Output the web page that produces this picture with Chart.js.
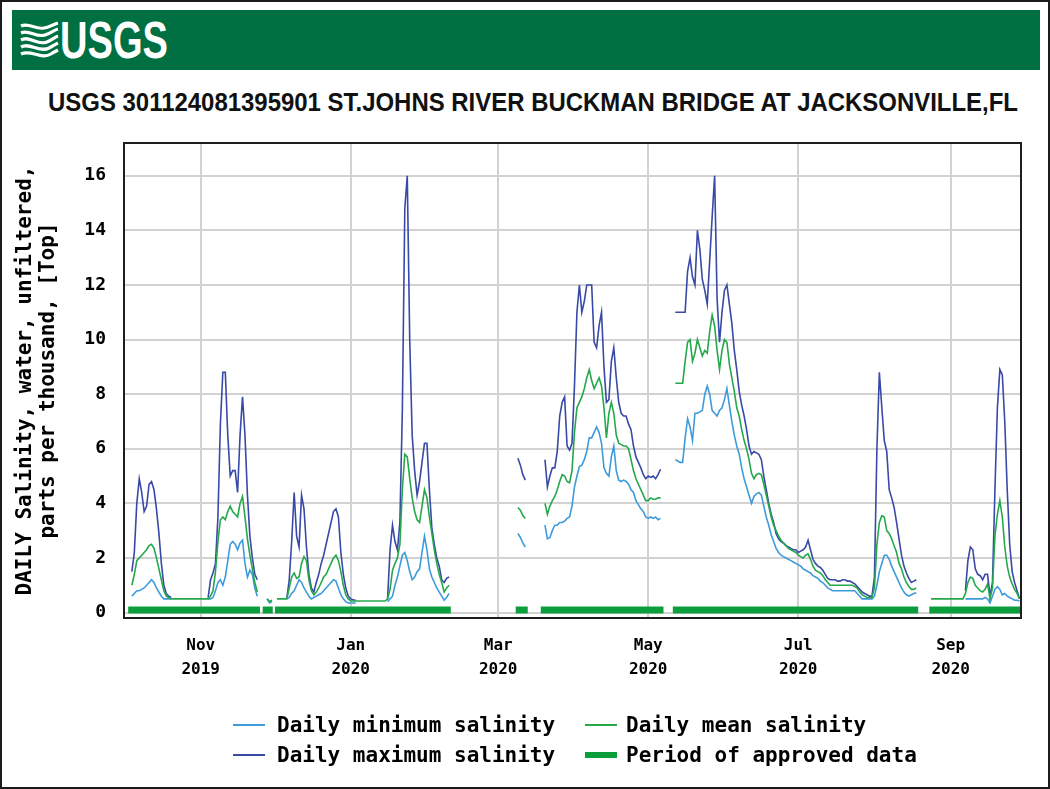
<!DOCTYPE html>
<html>
<head>
<meta charset="utf-8">
<script src="https://cdn.jsdelivr.net/npm/chart.js@4.4.1/dist/chart.umd.min.js"></script>
<style>
  html, body { margin: 0; padding: 0; background: #fff; }
  #page { position: relative; width: 1050px; height: 789px; overflow: hidden; background: #fff; }
  #outline { position: absolute; left: 0; top: 0; width: 1050px; height: 789px; box-sizing: border-box;
             border: 2px solid #1b1b1b; pointer-events: none; }
  #banner { position: absolute; left: 12px; top: 10px; width: 1028px; height: 60px; background: #006f41; }
  #logo { position: absolute; left: 8px; top: 10px; }
  #title { position: absolute; left: 0; top: 82px; }
  #chart { position: absolute; left: 0; top: 0; }
  .lg-item { position: absolute; height: 24px; display: flex; align-items: center;
             font: bold 21px "DejaVu Sans Mono", monospace; color: #000; white-space: pre; }
  .lg-swatch { position: absolute; }
</style>
</head>
<body>
<div id="page">
  <div id="banner">
    <svg id="logo" width="160" height="42" viewBox="0 0 160 42">
      <g fill="none" stroke="#fff" stroke-width="3.2" stroke-linecap="butt">
        <path d="M1,6 C9,2 15,10 24,8 C30,7 34,4 38,3"/>
        <path d="M1,13 C9,9 16,18 25,15 C31,13 34,10 38,9"/>
        <path d="M1,20 C10,15 17,26 27,22 C32,20 35,17 38,16"/>
        <path d="M1,27 C10,22 19,33 29,28 C33,26 36,24 38,23"/>
        <path d="M1,34 C11,29 21,40 31,34 C34,32 36,31 38,30"/>
      </g>
      <text x="40" y="38" textLength="108" lengthAdjust="spacingAndGlyphs"
            font-family="Liberation Sans Narrow, Liberation Sans, Arial, sans-serif"
            font-weight="bold" font-size="52" fill="#fff">USGS</text>
    </svg>
  </div>
  <svg id="title" width="1050" height="40">
    <text x="48" y="29" textLength="970" lengthAdjust="spacingAndGlyphs"
          font-family="Liberation Sans Narrow, Liberation Sans, Arial, sans-serif"
          font-weight="bold" font-size="25" fill="#111">USGS 301124081395901 ST.JOHNS RIVER BUCKMAN BRIDGE AT JACKSONVILLE,FL</text>
  </svg>
  <canvas id="chart" width="1050" height="789"></canvas>
  <div id="legend"></div>
  <div id="outline"></div>
</div>

<script>
// ---- Water year 2020 daily salinity, ppt. Each segment: [first date, daily values...] ----
const MIN_SALINITY = [
  ['2019-10-04', [0.6, 0.7, 0.8, 0.8, 0.85, 0.9, 1.0, 1.1, 1.2, 1.1, 0.9, 0.75, 0.6, 0.5, 0.5, 0.5, 0.5]],
  ['2019-11-04', [0.5, 0.5, 0.55, 0.8, 1.1, 1.2, 1.0, 1.3, 1.9, 2.5, 2.6, 2.5, 2.3, 2.55, 2.65, 1.8, 1.3, 1.55, 1.4, 0.9, 0.6]],
  ['2019-11-28', [0.5, 0.35, 0.4]],
  ['2019-12-06', [0.5, 0.55, 0.7, 0.8, 1.0, 1.2, 1.1, 0.9, 0.75, 0.6, 0.5, 0.55, 0.6, 0.65, 0.7, 0.8, 0.9, 1.0, 1.1, 1.2,
                  1.15, 0.9, 0.65, 0.5, 0.4, 0.35, 0.35, 0.35, 0.35]],
  ['2020-01-16', [0.4, 0.5, 0.6, 1.0, 1.3, 1.7, 2.1, 2.2, 1.9, 1.5, 1.2, 1.3, 1.5, 1.6, 2.2, 2.8, 2.3, 1.6, 1.3, 1.1,
                  0.9, 0.75, 0.6, 0.45, 0.55, 0.7]],
  ['2020-03-09', [2.9, 2.75, 2.55, 2.4]],
  ['2020-03-20', [3.2, 2.7, 2.75, 3.0, 3.2, 3.2, 3.3, 3.3, 3.35, 3.45, 3.5, 3.9, 4.6, 5.0, 5.35, 5.4, 5.6, 5.9, 6.4, 6.4,
                  6.6, 6.8, 6.6, 6.2, 5.3, 5.1, 5.0, 5.7, 6.1, 5.2, 4.85, 4.8, 4.85, 4.8, 4.7, 4.5, 4.4, 4.1, 3.95, 3.8,
                  3.7, 3.5, 3.45, 3.5, 3.45, 3.5, 3.4, 3.45]],
  ['2020-05-12', [5.6, 5.55, 5.5, 5.5, 6.4, 7.1, 6.8, 6.3, 7.3, 7.3, 7.35, 7.4, 8.0, 8.3, 8.0, 7.4, 7.3, 7.2, 7.4, 7.5,
                  7.8, 8.2, 7.6, 7.0, 6.5, 6.1, 5.8, 5.3, 4.9, 4.6, 4.3, 4.0, 4.25, 4.35, 4.4, 4.3, 3.9, 3.5, 3.2, 2.85,
                  2.6, 2.35, 2.2, 2.1, 2.05, 2.0, 1.95, 1.9, 1.85, 1.8, 1.75, 1.7, 1.6, 1.55, 1.5, 1.45, 1.35, 1.3, 1.25, 1.15,
                  1.1, 1.0, 0.9, 0.85, 0.8, 0.8, 0.8, 0.8, 0.8, 0.8, 0.8, 0.8, 0.8, 0.8, 0.7, 0.6, 0.5, 0.5, 0.5, 0.5,
                  0.5, 0.6, 1.0, 1.5, 1.8, 2.1, 2.1, 1.95, 1.7, 1.5, 1.3, 1.1, 0.9, 0.75, 0.65, 0.6, 0.65, 0.7, 0.72]],
  ['2020-09-07', [0.5, 0.5, 0.5, 0.5, 0.5, 0.5, 0.5, 0.5, 0.55, 0.5, 0.35, 0.6, 0.85, 0.95, 0.85, 0.65, 0.7, 0.6, 0.55, 0.5,
                  0.45, 0.45, 0.42]]
];

const MEAN_SALINITY = [
  ['2019-10-04', [1.0, 1.4, 1.9, 2.0, 2.1, 2.2, 2.3, 2.45, 2.5, 2.35, 2.0, 1.6, 1.2, 0.8, 0.6, 0.55,
                  0.5, 0.5, 0.5, 0.5, 0.5, 0.5, 0.5, 0.5, 0.5, 0.5, 0.5, 0.5, 0.5, 0.5, 0.5, 0.5,
                  0.6, 0.8, 1.5, 2.6, 3.4, 3.5, 3.4, 3.7, 3.9, 3.7, 3.6, 3.5, 4.0, 4.25, 3.5, 2.7, 2.1, 1.6, 1.1, 0.75]],
  ['2019-11-28', [0.5, 0.4, 0.45]],
  ['2019-12-02', [0.5, 0.5, 0.5, 0.5, 0.5, 0.9, 1.3, 1.45, 1.25, 1.3, 1.8, 2.05, 1.9, 1.2, 0.8, 0.65, 0.75, 0.9, 1.1, 1.3,
                  1.4, 1.6, 1.8, 2.0, 2.1, 1.9, 1.5, 1.0, 0.65, 0.5,
                  0.42, 0.42, 0.42, 0.42, 0.42, 0.42, 0.42, 0.42, 0.42, 0.42, 0.42, 0.42, 0.42, 0.42, 0.42,
                  0.5, 0.85, 1.55, 1.8, 2.0, 2.5, 4.5, 5.8, 5.7, 4.9, 4.2, 3.7, 3.4, 3.3, 3.9, 4.5, 4.2, 3.5, 2.9, 2.3,
                  1.8, 1.4, 1.1, 0.75, 0.9, 1.0]],
  ['2020-03-09', [3.85, 3.75, 3.55, 3.45]],
  ['2020-03-20', [4.0, 3.6, 3.9, 4.1, 4.25, 4.5, 4.8, 5.05, 5.0, 4.8, 4.75, 5.2, 6.6, 7.5, 7.7, 7.9, 8.2, 8.6, 8.9, 8.5,
                  8.2, 8.4, 8.6, 8.3, 7.5, 6.4, 7.3, 7.7, 7.3, 6.5, 6.2, 6.15, 6.1, 6.1, 6.0, 5.6, 5.2, 4.9, 4.7, 4.5,
                  4.3, 4.1, 4.1, 4.2, 4.15, 4.15, 4.2, 4.2]],
  ['2020-05-12', [8.4, 8.4, 8.4, 8.4, 9.2, 9.9, 10.0, 9.2, 9.5, 10.0, 9.7, 9.4, 9.6, 9.5, 10.3, 10.9, 10.5, 9.6, 8.9, 9.6,
                  10.0, 9.9, 9.1, 8.6, 8.1, 7.5, 7.2, 6.7, 6.3, 6.0, 5.6, 5.1, 4.9, 5.05, 5.1, 5.05, 4.7, 4.3, 3.9, 3.5,
                  3.2, 3.0, 2.8, 2.65, 2.55, 2.45, 2.35, 2.3, 2.25, 2.2, 2.1, 2.05, 2.0, 2.1, 2.15, 1.95, 1.7, 1.55, 1.5, 1.45,
                  1.35, 1.2, 1.1, 1.0, 1.0, 1.0, 1.0, 1.0, 1.0, 1.0, 1.0, 1.0, 1.0, 0.95, 0.9, 0.75, 0.65, 0.6, 0.55, 0.55,
                  0.55, 0.9, 2.5, 3.3, 3.55, 3.5, 3.0, 2.9, 2.7, 2.45, 2.2, 1.8, 1.6, 1.3, 1.1, 0.95, 0.85, 0.85, 0.9]],
  ['2020-08-24', [0.5, 0.5, 0.5, 0.5, 0.5, 0.5, 0.5, 0.5, 0.5, 0.5, 0.5, 0.5, 0.5, 0.5,
                  0.7, 1.1, 1.3, 1.25, 1.0, 0.9, 0.8, 0.75, 0.85, 1.05, 0.5, 0.9, 2.8, 3.6, 4.1, 3.5, 2.4, 1.7, 1.3, 1.05,
                  0.85, 0.7, 0.5]]
];

const MAX_SALINITY = [
  ['2019-10-04', [1.5, 2.2, 4.0, 4.9, 4.4, 3.7, 3.9, 4.7, 4.8, 4.5, 3.8, 2.9, 1.8, 1.0, 0.7, 0.6, 0.55]],
  ['2019-11-04', [0.55, 1.2, 1.45, 1.8, 3.5, 6.9, 8.8, 8.8, 6.5, 5.0, 5.2, 5.2, 4.4, 6.5, 7.9, 6.5, 4.3, 2.8, 2.0, 1.4, 1.2]],
  ['2019-12-06', [0.5, 1.2, 2.6, 4.4, 2.8, 2.4, 4.3, 3.8, 2.4, 1.4, 0.9, 0.75, 1.1, 1.4, 1.8, 2.1, 2.5, 2.9, 3.3, 3.7,
                  3.8, 3.5, 2.2, 1.4, 0.9, 0.6, 0.5, 0.47, 0.45]],
  ['2020-01-16', [0.5, 2.3, 3.2, 2.6, 2.3, 3.3, 7.4, 14.8, 16.0, 10.0, 6.5, 5.2, 4.3, 4.8, 5.5, 6.2, 6.2, 4.5, 3.1, 2.5,
                  2.0, 1.7, 1.2, 1.1, 1.25, 1.3]],
  ['2020-03-09', [5.65, 5.4, 5.05, 4.85]],
  ['2020-03-20', [5.6, 4.6, 5.0, 5.3, 5.3, 5.9, 7.2, 7.7, 7.9, 6.1, 5.95, 6.2, 8.3, 11.0, 12.0, 11.0, 11.4, 12.0, 12.0, 12.0,
                  9.9, 9.7, 10.5, 11.0, 9.0, 7.7, 7.8, 9.2, 9.7, 8.6, 7.7, 7.3, 7.2, 7.2, 6.9, 6.7, 6.1, 5.7, 5.5, 5.3,
                  5.05, 4.9, 5.0, 4.95, 5.0, 4.9, 5.05, 5.25]],
  ['2020-05-12', [11.0, 11.0, 11.0, 11.0, 11.0, 12.5, 13.0, 12.3, 12.0, 14.0, 13.3, 12.2, 11.8, 11.3, 12.9, 14.5, 16.0, 11.5, 9.9, 11.0,
                  11.8, 12.0, 11.3, 10.6, 9.6, 8.9, 8.1, 7.6, 7.2, 6.7, 6.1, 5.8, 5.9, 5.85, 5.8, 5.6, 5.0, 4.5, 4.0, 3.6,
                  3.3, 2.9, 2.7, 2.6, 2.55, 2.45, 2.4, 2.35, 2.3, 2.3, 2.2, 2.25, 2.3, 2.4, 2.65, 2.3, 1.95, 1.8, 1.7, 1.65,
                  1.55, 1.4, 1.25, 1.2, 1.2, 1.2, 1.15, 1.15, 1.2, 1.2, 1.15, 1.15, 1.1, 1.05, 0.95, 0.85, 0.75, 0.7, 0.65, 0.6,
                  0.6, 1.3, 6.0, 8.8, 7.5, 6.3, 5.9, 4.5, 4.2, 3.85, 3.3, 2.7, 2.1, 1.7, 1.45, 1.25, 1.1, 1.15, 1.2]],
  ['2020-09-07', [0.8, 1.9, 2.4, 2.3, 1.6, 1.4, 1.35, 1.2, 1.4, 1.4, 0.6, 1.1, 4.5, 7.5, 8.9, 8.7, 7.0, 4.5, 2.5, 1.5,
                  1.1, 0.8, 0.5]]
];

// Approved-data periods, in days after 1 Oct 2019
const APPROVED_PERIODS = [[1.5, 55.1], [56.2, 60.3], [61.2, 132.7], [159.1, 164.0], [169.3, 219.2], [223.0, 322.8], [327.3, 365.0]];

// Axis ticks
const Y_TICKS = [0, 2, 4, 6, 8, 10, 12, 14, 16];
const X_TICK_DATES = ['2019-11-01', '2020-01-01', '2020-03-01', '2020-05-01', '2020-07-01', '2020-09-01'];
const X_TICK_MONTHS = ['Nov', 'Jan', 'Mar', 'May', 'Jul', 'Sep'];
const X_TICK_YEARS = ['2019', '2020', '2020', '2020', '2020', '2020'];

const SERIES_LABELS = ['Daily minimum salinity', 'Daily mean salinity', 'Daily maximum salinity', 'Period of approved data'];
const Y_TITLE = ['DAILY Salinity, water, unfiltered,', 'parts per thousand, [Top]'];

// ---- styling ----
const COLORS = { min: '#3d9bdc', mean: '#25a84c', max: '#3849a8', approved: '#0c9e3d' };
const MONO = '"DejaVu Sans Mono", "Liberation Mono", monospace';
const APPROVED_LEVEL = 0.09;   // height of the approval strip, just above zero

const DAY0 = Date.UTC(2019, 9, 1);
function dayIndex(iso) {
  const [y, m, d] = iso.split('-').map(Number);
  return Math.round((Date.UTC(y, m - 1, d) - DAY0) / 86400000);
}
function toPoints(segments) {
  const pts = [];
  segments.forEach(([start, values]) => {
    const d0 = dayIndex(start);
    values.forEach((v, i) => pts.push({ x: d0 + i, y: v }));
    pts.push({ x: d0 + values.length - 0.5, y: null });
  });
  return pts;
}
function periodPoints(periods) {
  const pts = [];
  periods.forEach(([a, b]) => {
    pts.push({ x: a, y: APPROVED_LEVEL }, { x: b, y: APPROVED_LEVEL }, { x: b, y: null });
  });
  return pts;
}
const X_TICK_DAYS = X_TICK_DATES.map(dayIndex);

const lineStyle = (color) => ({
  borderColor: color, backgroundColor: color, borderWidth: 1.6, pointRadius: 0,
  tension: 0, spanGaps: false, fill: false
});

const plotFrame = {
  id: 'plotFrame',
  afterDatasetsDraw(chart) {
    const { ctx, chartArea: a } = chart;
    ctx.save();
    ctx.strokeStyle = '#1e1e1e';
    ctx.lineWidth = 2;
    ctx.strokeRect(a.left, a.top, a.right - a.left, a.bottom - a.top);
    ctx.restore();
  }
};

const tickFont = { family: MONO, weight: 'bold', size: 16, lineHeight: 1.5 };

new Chart(document.getElementById('chart'), {
  type: 'line',
  data: {
    datasets: [
      Object.assign({ label: SERIES_LABELS[1], data: toPoints(MEAN_SALINITY), order: 0 }, lineStyle(COLORS.mean)),
      Object.assign({ label: SERIES_LABELS[0], data: toPoints(MIN_SALINITY), order: 1 }, lineStyle(COLORS.min)),
      Object.assign({ label: SERIES_LABELS[2], data: toPoints(MAX_SALINITY), order: 2 }, lineStyle(COLORS.max)),
      { label: SERIES_LABELS[3], data: periodPoints(APPROVED_PERIODS), order: 3,
        borderColor: COLORS.approved, borderWidth: 7, borderCapStyle: 'butt', pointRadius: 0, spanGaps: false }
    ]
  },
  options: {
    responsive: false,
    animation: false,
    events: [],
    layout: { padding: { top: 143, right: 29, left: 0, bottom: 0 } },
    plugins: { legend: { display: false }, tooltip: { enabled: false }, title: { display: false } },
    scales: {
      x: {
        type: 'linear', min: -0.2, max: 364.6,
        afterBuildTicks: (s) => { s.ticks = X_TICK_DAYS.map(v => ({ value: v })); },
        afterFit: (s) => { s.height = 171; },
        grid: { color: '#d2d2d2', lineWidth: 2, drawTicks: false },
        border: { display: false },
        ticks: {
          autoSkip: false, maxRotation: 0, minRotation: 0, padding: 16, color: '#000', font: tickFont,
          callback: (v, i) => [X_TICK_MONTHS[i], X_TICK_YEARS[i]]
        }
      },
      y: {
        min: -0.2, max: 17.2,
        afterBuildTicks: (s) => { s.ticks = Y_TICKS.map(v => ({ value: v })); },
        afterFit: (s) => { s.width = 124; },
        grid: { color: '#d2d2d2', lineWidth: 2, drawTicks: false },
        border: { display: false },
        ticks: { padding: 18, color: '#000', font: { family: MONO, weight: 'bold', size: 18 } },
        title: {
          display: true, text: Y_TITLE, color: '#000',
          font: { family: MONO, weight: 'bold', size: 21, lineHeight: 1.1 },
          padding: { top: 14, bottom: 0 }
        }
      }
    }
  },
  plugins: [plotFrame]
});

// ---- legend (two aligned columns) ----
(function buildLegend() {
  const host = document.getElementById('legend');
  const items = [
    { label: SERIES_LABELS[0], color: COLORS.min, thick: 2, x: 233, tx: 277, y: 725 },
    { label: SERIES_LABELS[1], color: COLORS.mean, thick: 2, x: 585, tx: 626, y: 725 },
    { label: SERIES_LABELS[2], color: COLORS.max, thick: 2, x: 233, tx: 277, y: 755 },
    { label: SERIES_LABELS[3], color: COLORS.approved, thick: 6, x: 585, tx: 626, y: 755 }
  ];
  items.forEach(it => {
    const sw = document.createElement('div');
    sw.className = 'lg-swatch';
    Object.assign(sw.style, { left: it.x + 'px', top: (it.y - it.thick / 2) + 'px', width: '32px',
                              height: it.thick + 'px', background: it.color });
    host.appendChild(sw);
    const tx = document.createElement('div');
    tx.className = 'lg-item';
    tx.textContent = it.label;
    Object.assign(tx.style, { left: it.tx + 'px', top: (it.y - 12) + 'px' });
    host.appendChild(tx);
  });
})();
</script>
</body>
</html>
